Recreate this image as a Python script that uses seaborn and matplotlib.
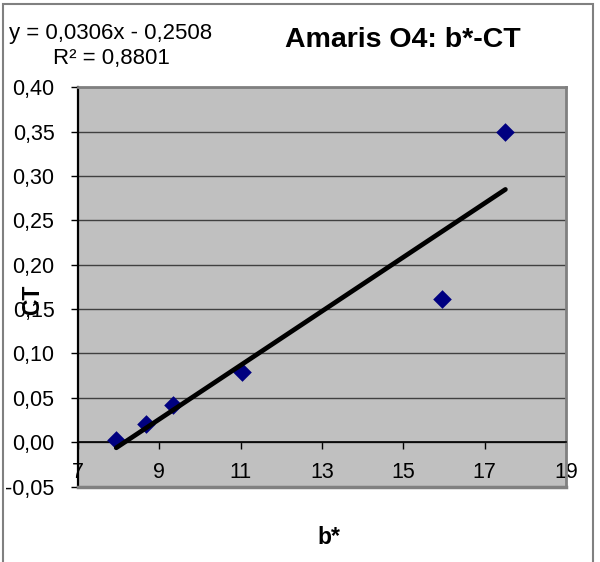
import matplotlib
matplotlib.use("Agg")
import matplotlib.pyplot as plt
from matplotlib.patches import Rectangle
import seaborn as sns
import pandas as pd

# ---- data ----
b_star = [7.94, 8.67, 9.33, 11.03, 15.94, 17.51]
ct = [0.002, 0.021, 0.042, 0.079, 0.161, 0.35]
x_ticks = [7, 9, 11, 13, 15, 17, 19]
x_tick_labels = ["7", "9", "11", "13", "15", "17", "19"]
y_ticks = [-0.05, 0.0, 0.05, 0.10, 0.15, 0.20, 0.25, 0.30, 0.35, 0.40]
y_tick_labels = ["-0,05", "0,00", "0,05", "0,10", "0,15", "0,20", "0,25", "0,30", "0,35", "0,40"]
title = "Amaris O4: b*-CT"
equation = "y = 0,0306x - 0,2508\nR² = 0,8801"
x_label = "b*"
y_label = "CT"

df = pd.DataFrame({"b": b_star, "ct": ct})

plt.rcParams["font.family"] = ["Liberation Sans", "DejaVu Sans"]
FS = 15.5

W, H = 600, 562
fig = plt.figure(figsize=(W / 100, H / 100), dpi=100)
left, right, top, bottom = 78, 566, 87.3, 486.5
ax = fig.add_axes([left / W, 1 - bottom / H, (right - left) / W, (bottom - top) / H])
ax.set_facecolor("#C0C0C0")

# gridlines
ax.set_axisbelow(True)
ax.yaxis.grid(True, color="#404040", lw=1)
ax.xaxis.grid(False)

sns.scatterplot(data=df, x="b", y="ct", marker="D", s=90, color="#000080",
                edgecolor="#000080", linewidth=0, ax=ax, zorder=3)
sns.regplot(data=df, x="b", y="ct", scatter=False, ci=None, truncate=True,
            color="black", line_kws={"lw": 3.4, "solid_capstyle": "round", "zorder": 4}, ax=ax)

ax.set_xlim(7, 19)
ax.set_ylim(-0.05, 0.40)
ax.set_xticks(x_ticks)
ax.set_xticklabels(x_tick_labels)
ax.set_yticks(y_ticks)
ax.set_yticklabels(y_tick_labels)
ax.set_xlabel("")
ax.set_ylabel("")

# spines
ax.spines["bottom"].set_position(("data", 0))
ax.spines["bottom"].set_color("black")
ax.spines["bottom"].set_linewidth(1.2)
ax.spines["left"].set_color("black")
ax.spines["left"].set_linewidth(1.6)
for s in ["top", "right"]:
    ax.spines[s].set_color("#808080")
    ax.spines[s].set_linewidth(2)
ax.axhline(-0.05, color="#808080", lw=2.5, clip_on=False, zorder=5)

ax.tick_params(axis="y", direction="out", length=5, width=1, colors="black",
               labelsize=FS, pad=12)
ax.tick_params(axis="x", direction="out", length=5, width=1, colors="black",
               labelsize=FS, pad=9)

# texts
fig.text(403 / W, 1 - 40 / H, title, ha="center", va="center", fontsize=20.5, fontweight="bold")
fig.text(111 / W, 1 - 46 / H, equation, ha="center", va="center", fontsize=16,
         multialignment="center", linespacing=1.2)
fig.text(329 / W, 1 - 537 / H, x_label, ha="center", va="center", fontsize=16.5, fontweight="bold")
fig.text(33 / W, 1 - 300 / H, y_label, ha="center", va="center", fontsize=16.5,
         fontweight="bold", rotation=90)

# outer frame
fig.patches.append(Rectangle((2.5 / W, -0.01), (593 - 2.5) / W, 1.001 - 5 / H + 0.01,
                             transform=fig.transFigure, fill=False,
                             edgecolor="#808080", lw=1.5))

fig.savefig("out.png", dpi=100, facecolor="white")
